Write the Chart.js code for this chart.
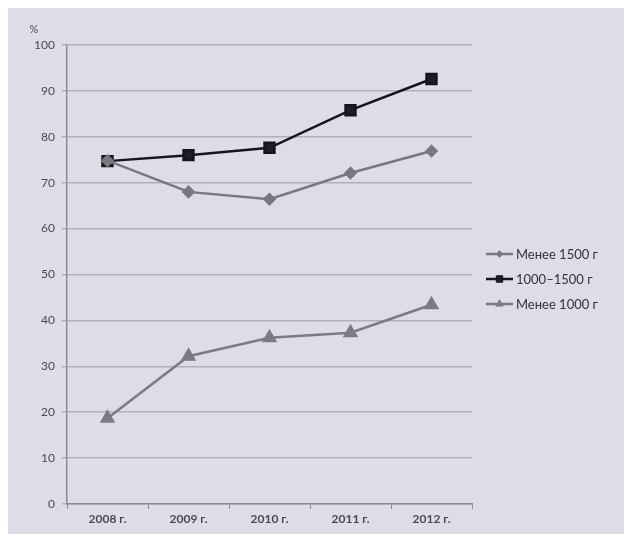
<!DOCTYPE html>
<html>
<head>
<meta charset="utf-8">
<script src="https://cdn.jsdelivr.net/npm/chart.js@4/dist/chart.umd.min.js"></script>
<style>
  html, body { margin: 0; padding: 0; background: #ffffff; }
  #wrap { width: 624px; height: 534px; position: relative; }
</style>
</head>
<body>
<div id="wrap"><canvas id="chart" width="624" height="534"></canvas></div>
<script>
const years = ['2008 г.', '2009 г.', '2010 г.', '2011 г.', '2012 г.'];
const under1500 = [74.8, 68.0, 66.4, 72.1, 76.9];
const from1000to1500 = [74.7, 76.0, 77.6, 85.8, 92.6];
const under1000 = [18.7, 32.2, 36.2, 37.3, 43.4];
const yTicks = [0, 10, 20, 30, 40, 50, 60, 70, 80, 90, 100];

const panelColor = '#dedce7';
const gridColor = '#b2afbb';
const textColor = '#4a4a4f';
const fontFamily = 'Lato, "Open Sans", sans-serif';

// lavender panel behind everything
const panelBg = {
    id: 'panelBg',
    beforeDraw(chart) {
        const ctx = chart.ctx;
        ctx.save();
        ctx.fillStyle = panelColor;
        ctx.fillRect(8, 8, chart.width - 8, chart.height - 8);
        ctx.restore();
    }
};

// "%" unit label above the y axis
const unitLabel = {
    id: 'unitLabel',
    afterDraw(chart) {
        const ctx = chart.ctx;
        const y = chart.scales.y;
        ctx.save();
        ctx.fillStyle = textColor;
        ctx.font = '11px ' + fontFamily;
        ctx.textAlign = 'center';
        ctx.textBaseline = 'middle';
        ctx.fillText('%', y.right - 33, y.top - 16);
        ctx.restore();
    }
};

// legend with a short line and the marker on it
const sideLegend = {
    id: 'sideLegend',
    afterDraw(chart) {
        const ctx = chart.ctx;
        const x0 = 486, x1 = 513, top = 254, gap = 25;
        ctx.save();
        chart.data.datasets.forEach((ds, i) => {
            const y = top + i * gap;
            ctx.strokeStyle = ds.borderColor;
            ctx.lineWidth = ds.borderWidth;
            ctx.beginPath();
            ctx.moveTo(x0, y);
            ctx.lineTo(x1, y);
            ctx.stroke();
            ctx.fillStyle = ds.pointBackgroundColor;
            ctx.strokeStyle = ds.pointBorderColor;
            ctx.lineWidth = 1;
            Chart.helpers.drawPoint(ctx, {
                pointStyle: ds.pointStyle,
                radius: ds.pointRadius * 0.65,
                rotation: 0,
                borderWidth: 1
            }, (x0 + x1) / 2, y);
            ctx.fillStyle = '#333338';
            ctx.font = '13px ' + fontFamily;
            ctx.textAlign = 'left';
            ctx.textBaseline = 'middle';
            ctx.fillText(ds.label, x1 + 3, y + 1);
        });
        ctx.restore();
    }
};

new Chart(document.getElementById('chart'), {
    type: 'line',
    data: {
        labels: years,
        datasets: [
            {
                label: 'Менее 1500 г',
                data: under1500,
                borderColor: '#7a787e',
                backgroundColor: '#7a787e',
                pointBackgroundColor: '#7a787e',
                pointBorderColor: '#7a787e',
                borderWidth: 2.5,
                pointStyle: 'rectRot',
                pointRadius: 5,
                tension: 0
            },
            {
                label: '1000–1500 г',
                data: from1000to1500,
                borderColor: '#15151c',
                backgroundColor: '#15151c',
                pointBackgroundColor: '#1d1d24',
                pointBorderColor: '#15151c',
                borderWidth: 2.5,
                pointStyle: 'rect',
                pointRadius: 7,
                tension: 0
            },
            {
                label: 'Менее 1000 г',
                data: under1000,
                borderColor: '#7c7a82',
                backgroundColor: '#7c7a82',
                pointBackgroundColor: '#7c7a82',
                pointBorderColor: '#7c7a82',
                borderWidth: 2.5,
                pointStyle: 'triangle',
                pointRadius: 6.5,
                tension: 0
            }
        ]
    },
    options: {
        responsive: false,
        animation: false,
        layout: { padding: { left: 0, top: 45, right: 152, bottom: 0 } },
        plugins: {
            legend: { display: false },
            tooltip: { enabled: false }
        },
        scales: {
            x: {
                offset: true,
                grid: {
                    offset: true,
                    drawOnChartArea: false,
                    color: '#8e8b96',
                    tickLength: 5
                },
                border: { color: '#8e8b96', width: 1.5 },
                ticks: {
                    color: textColor,
                    font: { family: fontFamily, size: 12, weight: 'bold' },
                    padding: 3,
                    maxRotation: 0
                },
                afterFit(scale) { scale.height = 30; }
            },
            y: {
                min: 0,
                max: 100,
                afterBuildTicks(scale) { scale.ticks = yTicks.map(v => ({ value: v })); },
                grid: {
                    color: gridColor,
                    lineWidth: 1.5,
                    tickLength: 5,
                    tickColor: gridColor
                },
                border: { color: '#8e8b96', width: 1.5 },
                ticks: {
                    color: textColor,
                    font: { family: fontFamily, size: 12 },
                    padding: 7
                },
                afterFit(scale) { scale.width = 67; }
            }
        }
    },
    plugins: [panelBg, unitLabel, sideLegend]
});
</script>
</body>
</html>
